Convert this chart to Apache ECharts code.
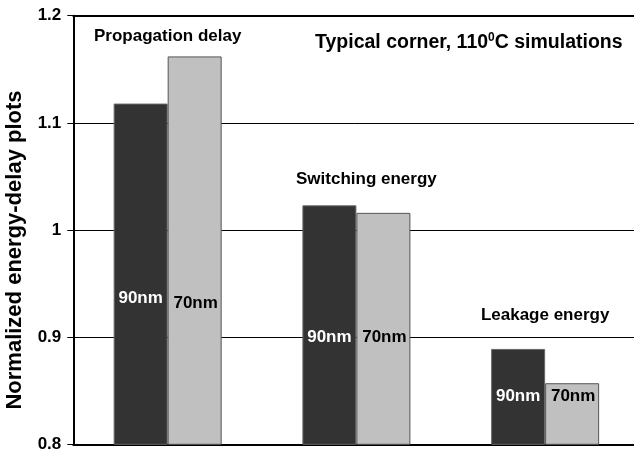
<!DOCTYPE html>
<html>
<head>
<meta charset="utf-8">
<script src="https://cdn.jsdelivr.net/npm/echarts@6/dist/echarts.min.js"></script>
<style>html,body{margin:0;padding:0;background:#fff}#c{width:634px;height:452px}</style>
</head>
<body>
<div id="c"></div>
<script>
var categories = ['Propagation delay', 'Switching energy', 'Leakage energy'];
var nm90 = [1.118, 1.023, 0.889];
var nm70 = [1.162, 1.016, 0.857];
var yTicks = [0.8, 0.9, 1.0, 1.1, 1.2];
// heights (in axis units) where the in-bar labels and group captions sit
var label90At = [0.936, 0.900, 0.845];
var label70At = [0.932, 0.900, 0.845];
var captionAt = [1.181, 1.047, 0.920];

var FONT = '"Liberation Sans", Arial, Helvetica, sans-serif';
var chart = echarts.init(document.getElementById('c'), null, {renderer: 'canvas'});

function pts(arr) { return arr.map(function (v, i) { return [i, v]; }); }

var labelBase = { show: true, position: 'inside', fontFamily: FONT, fontWeight: 'bold', fontSize: 17, opacity: 1 };

var option = {
  animation: false,
  backgroundColor: '#fff',
  title: {
    text: 'Typical corner, 110{s|0}C simulations',
    left: 310, top: 27,
    textStyle: {
      fontFamily: FONT, fontWeight: 'bold', fontSize: 19.5, color: '#000',
      rich: { s: { fontFamily: FONT, fontWeight: 'bold', fontSize: 12, color: '#000', padding: [0, 0, 10, 0] } }
    }
  },
  grid: { left: 73.3, right: -5.5, top: 15.7, bottom: 7.7, containLabel: false, outerBoundsMode: 'none' },
  xAxis: [{
    type: 'category', data: categories,
    axisLine: { show: true, lineStyle: { color: '#000', width: 2 } },
    axisTick: { show: false }, axisLabel: { show: false }, splitLine: { show: false }
  }, {
    type: 'category', data: categories, position: 'top',
    axisLine: { show: true, lineStyle: { color: '#000', width: 2 } },
    axisTick: { show: false }, axisLabel: { show: false }, splitLine: { show: false }
  }],
  yAxis: {
    type: 'value', min: yTicks[0], max: yTicks[yTicks.length - 1], interval: 0.1,
    name: 'Normalized energy-delay plots', nameLocation: 'middle', nameGap: 47,
    nameTextStyle: { fontFamily: FONT, fontWeight: 'bold', fontSize: 22, color: '#000', padding: [0, 40, 0, 0] },
    axisLine: { show: true, lineStyle: { color: '#000', width: 2 } },
    axisTick: { show: true, length: 6, lineStyle: { color: '#000', width: 1 } },
    axisLabel: {
      fontFamily: FONT, fontWeight: 'bold', fontSize: 17, color: '#000', margin: 12,
      formatter: function (v) { return String(Math.round(v * 10) / 10); }
    },
    splitLine: { show: true, lineStyle: { color: '#000', width: 1 } }
  },
  series: [{
    name: '90nm', type: 'bar', data: nm90, barWidth: 54, barGap: '0%',
    itemStyle: { color: '#333333', borderColor: '#666', borderWidth: 1 }
  }, {
    name: '70nm', type: 'bar', data: nm70, barWidth: 54,
    itemStyle: { color: '#c0c0c0', borderColor: '#555', borderWidth: 1 }
  }, {
    type: 'scatter', data: pts(label90At), symbolSize: 0, silent: true, z: 5,
    itemStyle: { opacity: 1 },
    label: Object.assign({}, labelBase, { offset: [-27, 0], formatter: '90nm', color: '#ffffff' })
  }, {
    type: 'scatter', data: pts(label70At), symbolSize: 0, silent: true, z: 5,
    itemStyle: { opacity: 1 },
    label: Object.assign({}, labelBase, { offset: [28, 0], formatter: '70nm', color: '#000000' })
  }, {
    type: 'scatter', symbolSize: 0, silent: true, z: 5,
    itemStyle: { opacity: 1 },
    data: captionAt.map(function (v, i) {
      return { value: [i, v], label: { offset: [i === 1 ? 10 : 0, 0] } };
    }),
    label: Object.assign({}, labelBase, {
      formatter: function (p) { return categories[p.dataIndex]; }, color: '#000000' })
  }]
};
chart.setOption(option);
</script>
</body>
</html>
